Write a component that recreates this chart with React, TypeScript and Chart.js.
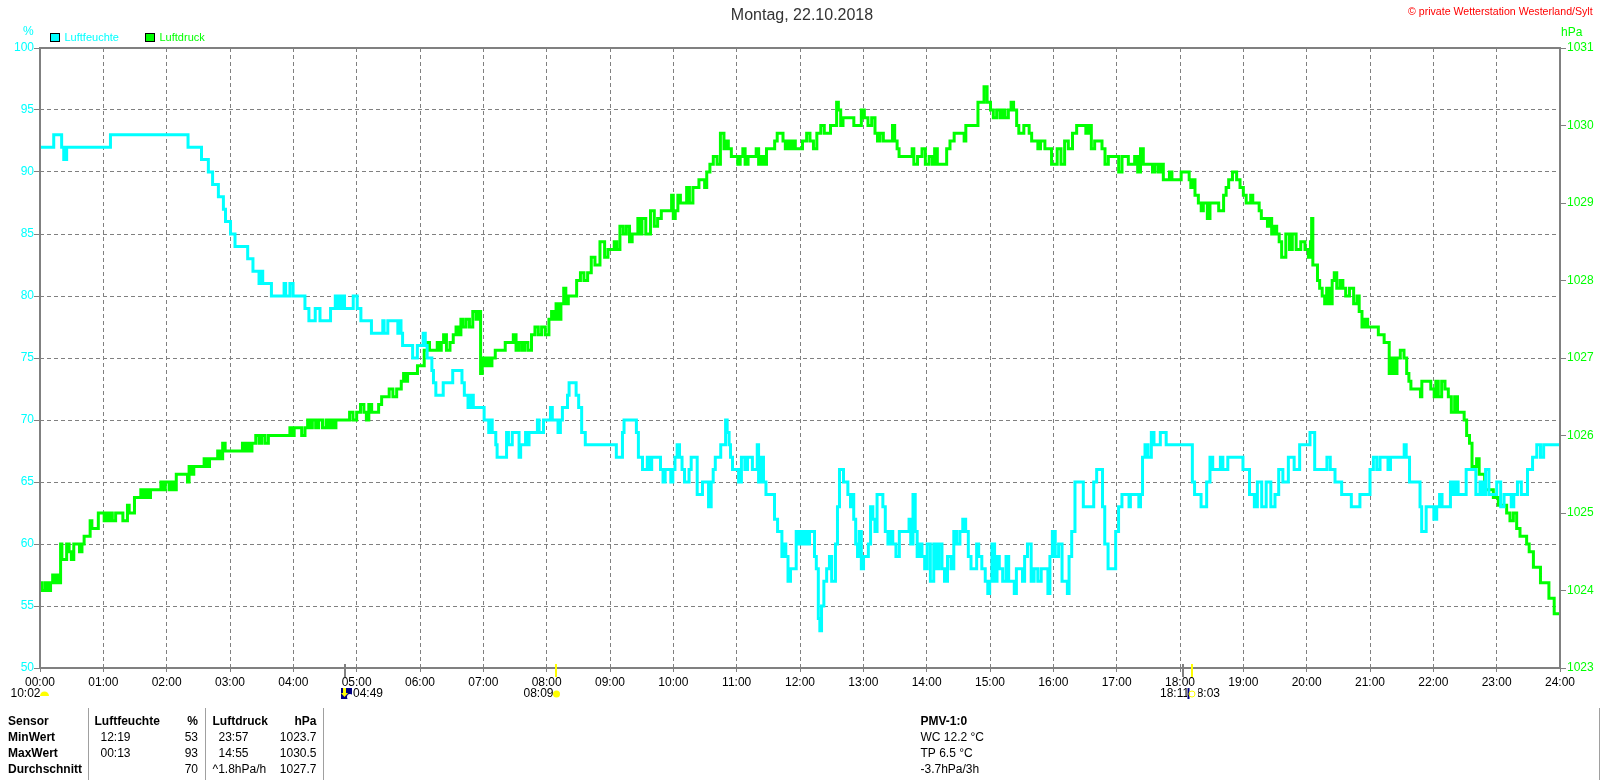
import React, { useEffect, useRef } from "react";
import { Chart, registerables } from "chart.js";

Chart.register(...registerables);

const TITLE = "Montag, 22.10.2018";
const COPYRIGHT = "© private Wetterstation Westerland/Sylt";
const HUMIDITY_LABEL = "Luftfeuchte";
const PRESSURE_LABEL = "Luftdruck";
const HUMIDITY_COLOR = "#00ffff";
const PRESSURE_COLOR = "#00ff00";
const HOUR_TICKS = ["00:00","01:00","02:00","03:00","04:00","05:00","06:00","07:00","08:00","09:00","10:00","11:00","12:00","13:00","14:00","15:00","16:00","17:00","18:00","19:00","20:00","21:00","22:00","23:00","24:00"];

// [minute of day, % relative humidity]
const humidity: number[][] = [
[0,92],[12,92],[14,93],[19.5,93],[21.5,92],[23.5,91],[24.5,91],[26,92],[65.5,92],[68,93],[139,93],[141.5,92],[152,92],[154,91],[158.5,91],[160.5,90],[163,90],[164,89],[168,89],[170,88],[173,88],[174.5,87],[177,86],[179.5,86],[181.5,85],[184,85],[185.5,84],[196,84],[197.5,83],[201,83],[202.5,82],[207,82],[208,81],[209,82],[209.5,81],[210.5,82],[211.5,81],[218,81],[218.5,81],[220,80],[230.5,80],[232,81],[233.5,80],[236,80],[237.5,81],[239,81],[240.5,80],[250,80],[252,79],[254,79],[255.5,78],[260,78],[261.5,79],[264.5,79],[266,78],[274.5,78],[276,79],[279,79],[280.5,80],[282,79],[284,80],[286,79],[288,80],[289,79],[296,79],[297.5,80],[299.5,80],[301.5,79],[303.5,79],[304.5,78],[313,78],[315,77],[324,77],[325.5,78],[326.5,77],[328.5,77],[330.5,78],[338.5,78],[339.5,77],[341.5,78],[342.5,77],[344.5,76],[352,76],[354,75],[356.5,75],[358.5,76],[362,76],[364,77],[366,76],[367.5,75],[370.5,75],[372,74],[373.5,73],[376.5,72],[381,72],[383,73],[390,73],[392,74],[398.5,74],[401,73],[403,72],[405,72],[406,71],[407.5,72],[408.5,71],[410,72],[411,71],[418,71],[420,71],[421.5,70],[424.6,70],[425.6,69],[427.8,70],[429,69],[431,69],[432.6,68],[433.5,67],[441,67],[443,69],[444.6,68],[446.8,68],[448,69],[453,69],[454.7,67],[456,68],[459,68],[461,69],[462.6,68],[464,69],[470.5,69],[472,70],[473.7,69],[476,69],[478,70],[482.5,70],[484.7,71],[486,70],[489.5,70],[492,69],[494,70],[495.8,71],[499,71],[500.5,72],[502,73],[506.8,73],[509,72],[511.6,71],[514.7,69],[518.5,68],[545,68],[547,67],[551,67],[552.6,69],[554,70],[564,70],[566,69],[567.8,67],[570,67],[571.6,66],[574.7,66],[576,67],[578,66],[581,67],[586.7,67],[589,66],[591.5,65],[593,66],[596.8,66],[598.4,65],[600.6,66],[602.5,67],[604.7,68],[607,67],[609.5,66],[611.7,65],[614,65],[615.8,66],[618,67],[621.5,67],[623.7,64],[626.8,64],[628.4,65],[632,65],[634.7,63],[637,65],[638.5,66],[641,67],[644,67],[645.8,68],[649,68],[650,70],[652,69],[653.7,68],[654.6,67],[657.5,66],[660.6,66],[663,65],[666,67],[669.5,66],[671,67],[674,67],[675.8,66],[679,66],[680,68],[681.5,65],[684.3,67],[686.5,65],[689,64],[694.7,64],[697,62],[698,62],[699.5,61],[701.7,61],[704,59],[705.8,60],[707.3,59],[710,57],[712,58],[715,58],[717.8,61],[719,60],[721.6,61],[723.8,60],[726,61],[728,60],[730,61],[733,61],[734.5,59],[736.4,58],[738.3,54],[739.3,53],[741.5,55],[743.7,57],[746.8,58],[749,59],[751,57],[752.5,57],[754.7,60],[756.3,63],[758.5,66],[760.4,66],[762,65],[764,65],[766.7,64],[769,63],[770,64],[771.8,62],[773.7,60],[775.3,59],[776.8,61],[779.4,58],[781,59],[783.8,59],[785.7,60],[788,63],[790,62],[792,61],[794,64],[797.4,64],[799.6,63],[802,61],[804.6,60],[806.8,61],[809,60],[812.8,59],[815.4,61],[822.6,61],[824,62],[825.8,60],[828.3,64],[830,61],[832,59],[834.3,60],[836.8,59],[839.4,58],[841.6,60],[845.4,57],[848,60],[850,58],[853.2,60],[855.8,58],[858,57],[861.5,59],[864.6,58],[866.8,61],[870,60],[873,61],[875.4,62],[878.5,61],[880.4,59],[883.6,58],[886.7,58],[888,60],[890.5,59],[894,58],[897,57],[898.8,56],[900.6,57],[903,60],[905.7,57],[907.6,59],[910,58],[914,57],[916.4,59],[919,57],[922,57],[924,56],[926,58],[930,58],[931.6,57],[934,59],[937,60],[941,57],[942.6,58],[948,57],[949,58],[953.7,58],[956,56],[957.5,59],[960.6,61],[963,59],[967,60],[969.5,57],[972.6,57],[974,56],[975.8,59],[979,61],[982,65],[986.8,65],[990,63],[997,63],[999.5,65],[1002.6,66],[1005.8,66],[1007.4,63],[1010,60],[1013.7,58],[1017.5,58],[1020.6,61],[1023,63],[1027,64],[1031.4,64],[1032,63],[1034,64],[1040.5,64],[1041.5,63],[1043.7,64],[1045.3,67],[1048.4,68],[1051,67],[1054.7,69],[1056,68],[1060.4,68],[1062.3,69],[1065.8,69],[1068,68],[1090.8,68],[1092.6,65],[1095,64],[1099,64],[1100.9,63],[1103.7,63],[1106.8,65],[1110,67],[1112,66],[1117,66],[1119.5,67],[1121.7,66],[1124.2,66],[1126.4,67],[1138.7,67],[1140.6,66],[1144.7,66],[1147,64],[1149.5,64],[1151.4,63],[1155.2,65],[1159.6,63],[1163.7,65],[1168.4,63],[1171.6,64],[1175.4,66],[1179.5,65],[1185.8,67],[1190.5,66],[1196.2,68],[1201.6,68],[1204.7,69],[1206.3,69],[1208.9,66],[1217.4,66],[1221,67],[1223.7,66],[1230,65],[1236.3,64],[1241,64],[1243.6,63],[1249.9,63],[1251,64],[1258.4,64],[1261.6,66],[1264.8,67],[1268,66],[1271,67],[1275.8,67],[1278.3,66],[1280.5,67],[1283.7,67],[1291.6,67],[1293.2,68],[1295.4,67],[1299.5,65],[1306.8,65],[1308,63],[1309.9,61],[1312,61],[1314.4,63],[1316.9,63],[1319.4,63],[1321.6,62],[1324.8,63],[1327,64],[1329.5,63],[1335,63],[1337.4,65],[1339.6,64],[1342,65],[1345,64],[1350,64],[1352.2,66],[1358,66],[1362.6,64],[1365.8,65],[1368,64],[1371,66],[1374.3,64],[1378.5,64],[1381.6,65],[1386,63],[1388,64],[1392.6,64],[1395,63],[1397.4,64],[1402,65],[1404.7,64],[1408.4,64],[1410,66],[1412,66],[1416,67],[1420,68],[1423,67],[1426,68],[1440,68]
];

// [minute of day, hPa air pressure]
const pressure: number[][] = [
[0,1024.1],[4,1024],[6,1024.1],[9,1024],[11,1024.1],[13,1024.2],[15,1024.1],[16.5,1024.2],[19,1024.1],[20,1024.6],[21.5,1024.4],[23.7,1024.4],[26.8,1024.6],[28.4,1024.5],[31,1024.4],[33,1024.6],[36.3,1024.6],[38.5,1024.5],[41,1024.6],[42.6,1024.7],[46.7,1024.7],[48.3,1024.9],[50,1024.8],[54.3,1024.8],[56.2,1025],[60,1025],[61.6,1024.9],[63,1025],[65.4,1024.9],[67,1025],[70,1024.9],[73.3,1025],[77.4,1025],[79.6,1024.9],[82,1024.9],[83.7,1025.1],[85.3,1025],[88.4,1025],[90.6,1025.2],[94.7,1025.2],[96.3,1025.3],[98.5,1025.2],[101,1025.3],[103.6,1025.2],[105.8,1025.3],[113.7,1025.3],[115.3,1025.4],[116.8,1025.3],[120.6,1025.4],[124,1025.3],[126.3,1025.4],[128.2,1025.3],[130,1025.5],[139,1025.5],[140.5,1025.4],[142,1025.6],[144.6,1025.5],[146.8,1025.6],[154.7,1025.6],[156.3,1025.7],[159.5,1025.6],[161.7,1025.7],[167.4,1025.7],[169.3,1025.8],[171.5,1025.7],[174.6,1025.9],[176.2,1025.8],[191,1025.8],[192.6,1025.9],[195,1025.8],[197.4,1025.9],[199.6,1025.8],[202,1025.9],[206.8,1026],[208.4,1025.9],[211.6,1026],[214.7,1025.9],[218,1026],[236,1026],[237.5,1026.1],[240,1026],[241.6,1026.1],[246.3,1026.1],[249.5,1026],[252.6,1026.1],[254.5,1026.2],[256.4,1026.1],[259.6,1026.2],[262.7,1026.1],[265.3,1026.2],[270,1026.1],[272,1026.2],[274.6,1026.1],[276.9,1026.2],[279,1026.1],[281.7,1026.2],[292,1026.2],[294.6,1026.3],[298.4,1026.2],[301.6,1026.3],[305.7,1026.4],[308,1026.3],[310.4,1026.2],[312.6,1026.4],[315.8,1026.3],[319.6,1026.3],[322,1026.4],[325.3,1026.5],[330,1026.5],[331.6,1026.6],[337,1026.5],[338.8,1026.6],[341,1026.6],[343.5,1026.7],[345.4,1026.8],[347.3,1026.7],[349.2,1026.8],[356.8,1026.8],[358.4,1026.9],[363,1026.9],[365,1027.1],[366.3,1027.1],[368,1027.2],[370,1027.1],[375.7,1027.1],[377,1027.2],[378.9,1027.1],[381.4,1027.2],[383.3,1027.3],[386.8,1027.1],[390,1027.2],[393,1027.3],[395.3,1027.4],[397.8,1027.3],[399.7,1027.5],[401.6,1027.4],[405.7,1027.5],[408,1027.4],[412,1027.6],[414.3,1027.5],[416.8,1027.6],[418,1026.8],[420,1027],[421.5,1026.9],[423.7,1027],[426.9,1026.9],[429.4,1027],[433.2,1027.1],[439.5,1027.1],[442,1027.2],[446.8,1027.2],[450,1027.3],[452,1027.1],[454.7,1027.2],[457.8,1027.1],[460.4,1027.2],[464,1027.1],[467.3,1027.3],[470.5,1027.4],[473.6,1027.3],[476.8,1027.4],[480.6,1027.3],[483.7,1027.5],[485.6,1027.6],[487.8,1027.5],[490,1027.7],[492,1027.5],[495,1027.7],[497.3,1027.9],[499,1027.7],[502,1027.8],[506.8,1027.8],[510,1028],[514,1028.1],[516.6,1028],[521,1028.1],[523.5,1028.3],[528,1028.2],[533,1028.5],[536.8,1028.3],[539.3,1028.4],[543,1028.4],[545,1028.5],[547.8,1028.4],[551,1028.7],[554,1028.6],[557,1028.7],[560,1028.5],[562,1028.6],[565.8,1028.6],[567,1028.8],[569,1028.6],[571.5,1028.8],[576.3,1028.6],[580.4,1028.9],[583.5,1028.7],[586.7,1028.8],[590.5,1028.9],[597.4,1028.9],[599.3,1029.1],[600.6,1028.8],[603,1028.9],[605.6,1029.1],[607.8,1029],[612,1029],[613.2,1029.2],[617.3,1029],[619.8,1029.2],[623.5,1029.2],[625,1029.3],[629,1029.3],[630.3,1029.2],[633,1029.4],[636.3,1029.5],[639.4,1029.6],[643.5,1029.5],[645.7,1029.9],[647.4,1029.9],[648.5,1029.7],[650.5,1029.8],[653.7,1029.7],[656.2,1029.6],[660,1029.6],[662,1029.5],[664.7,1029.6],[667,1029.7],[669,1029.5],[672.6,1029.6],[677.4,1029.6],[679.6,1029.7],[682,1029.5],[684.6,1029.6],[687.5,1029.5],[689,1029.7],[694.7,1029.7],[697.3,1029.8],[699.5,1029.9],[703,1029.9],[704.8,1029.8],[707.4,1029.7],[710,1029.8],[712,1029.7],[714.3,1029.8],[716.8,1029.7],[720,1029.7],[724.7,1029.8],[727.9,1029.9],[731,1029.8],[734.5,1029.7],[737.4,1029.9],[742,1030],[744,1029.9],[747.8,1029.9],[750,1030],[754,1030],[755.4,1030.3],[757.3,1030.2],[759.8,1030],[761.7,1030.1],[770,1030.1],[772,1030],[776.8,1030],[779.4,1030.2],[782.5,1030.1],[786.3,1030],[789.5,1030.1],[792.6,1029.9],[794.2,1029.8],[797.4,1029.9],[800.5,1029.8],[806.8,1029.8],[808.4,1030],[811,1029.8],[813,1029.7],[814.7,1029.6],[825.8,1029.6],[826.7,1029.7],[829,1029.5],[833.7,1029.6],[837.5,1029.7],[840,1029.5],[844.7,1029.6],[846.3,1029.5],[848.8,1029.7],[851.4,1029.5],[857.4,1029.5],[860.5,1029.7],[863.7,1029.8],[868.4,1029.9],[874.7,1029.9],[876.3,1029.8],[877.9,1030],[886.7,1030],[890.5,1030.3],[893.7,1030.3],[895,1030.5],[896.5,1030.5],[898,1030.3],[899.4,1030.3],[901.6,1030.2],[904.7,1030.1],[907.9,1030.2],[911,1030.1],[912.6,1030.2],[915.8,1030.1],[919,1030.2],[921,1030.3],[923.7,1030.2],[926.8,1030],[927.8,1029.9],[936.3,1030],[937.9,1029.9],[941,1029.8],[944,1029.8],[946.7,1029.7],[949,1029.8],[955,1029.7],[961.6,1029.5],[965.7,1029.7],[968.8,1029.5],[972.6,1029.8],[975.8,1029.7],[980.5,1029.9],[983.7,1030],[990,1030],[991.6,1029.9],[994.7,1030],[997.3,1029.7],[1001,1029.8],[1004.8,1029.8],[1007.4,1029.7],[1010.5,1029.5],[1013.7,1029.6],[1020,1029.6],[1023.8,1029.4],[1026.3,1029.6],[1035.8,1029.5],[1038.3,1029.6],[1041.5,1029.4],[1043.7,1029.7],[1046.8,1029.5],[1053.2,1029.5],[1054.7,1029.4],[1058,1029.5],[1061,1029.4],[1063.6,1029.5],[1064.8,1029.3],[1069,1029.3],[1071,1029.4],[1073.7,1029.3],[1080,1029.3],[1082.2,1029.4],[1087.9,1029.4],[1089.5,1029.3],[1091,1029.2],[1092.6,1029.3],[1095.8,1029.1],[1099,1029],[1101.2,1028.9],[1103,1029],[1105,1029],[1106.8,1028.8],[1110,1029],[1115.4,1029],[1117.9,1028.9],[1120,1028.9],[1122.6,1029.1],[1124.8,1029.2],[1127.4,1029.3],[1132,1029.4],[1135.3,1029.3],[1138.4,1029.2],[1141.6,1029.1],[1143.8,1029],[1146,1029],[1147.9,1029.1],[1150,1029],[1154.2,1029],[1155.8,1028.9],[1158.3,1028.8],[1162,1028.8],[1163.7,1028.7],[1165.9,1028.8],[1167.8,1028.6],[1170,1028.7],[1173.2,1028.6],[1174.7,1028.5],[1177.9,1028.3],[1182.6,1028.6],[1184.8,1028.4],[1188,1028.6],[1192,1028.4],[1196.8,1028.5],[1200,1028.4],[1203.2,1028.3],[1204,1028.5],[1205.4,1028.8],[1206.3,1028.2],[1209.5,1028.2],[1211,1028],[1213.6,1027.9],[1215.8,1027.8],[1218.3,1027.7],[1219.6,1027.9],[1223,1027.7],[1225.3,1028],[1227,1028.1],[1230,1027.9],[1233.2,1028],[1235.4,1027.9],[1238.5,1027.8],[1242.6,1027.9],[1246.4,1027.7],[1249,1027.8],[1250.5,1027.6],[1254.3,1027.4],[1256.2,1027.5],[1259.4,1027.4],[1267,1027.4],[1268.8,1027.3],[1272.6,1027.3],[1274.2,1027.2],[1277.4,1027.2],[1279,1026.8],[1282,1027],[1284.3,1026.8],[1286.8,1027],[1290.6,1027.1],[1293.8,1027],[1295.7,1026.8],[1298,1026.7],[1299.5,1026.6],[1307.3,1026.6],[1308.3,1026.5],[1309.9,1026.7],[1315.2,1026.7],[1320,1026.6],[1321.6,1026.5],[1323.1,1026.7],[1326.3,1026.5],[1329.5,1026.7],[1332.6,1026.6],[1335.8,1026.5],[1338.3,1026.3],[1342.1,1026.5],[1343.7,1026.3],[1348.4,1026.3],[1350,1026.2],[1353.1,1026],[1355.4,1025.9],[1357.9,1025.6],[1359.4,1025.6],[1362.6,1025.7],[1364.2,1025.5],[1367.3,1025.5],[1369.9,1025.3],[1373.7,1025.3],[1380,1025.2],[1383.1,1025.1],[1387.9,1025.1],[1391,1025],[1394.2,1024.9],[1397.4,1025],[1400.5,1024.8],[1403.7,1024.7],[1406.8,1024.7],[1410,1024.6],[1411.6,1024.5],[1418,1024.3],[1425,1024.1],[1427,1024.1],[1432,1023.9],[1437,1023.7],[1440,1023.7]
];

// [minute, label] of sun/moon markers
const sunMarks = ["10:02", "08:09", "18:11"];
const moonMarks = ["04:49", "18:03"];
const sunMarkMinutes = [1091, 489];
const moonMarkMinutes = [289, 1083];

const tableHeader = ["Sensor", "Luftfeuchte", "%", "Luftdruck", "hPa"];
const rowNames = ["MinWert", "MaxWert", "Durchschnitt"];
const humidityTimes = ["12:19", "00:13", ""];
const humidityStats = ["53", "93", "70"];
const pressureTimes = ["23:57", "14:55", "^1.8hPa/h"];
const pressureStats = ["1023.7", "1030.5", "1027.7"];
const pmvLines = ["PMV-1:0", "WC 12.2 °C", "TP 6.5 °C", "-3.7hPa/3h"];

const FONT = '"Liberation Sans", Arial, sans-serif';

function drawSun(ctx: CanvasRenderingContext2D, x: number, y: number, half: boolean, outline = false) {
  ctx.save();
  ctx.fillStyle = "#ffff00";
  ctx.strokeStyle = "#ffff00";
  ctx.beginPath();
  if (half) {
    ctx.arc(x, y + 2, 4.5, Math.PI, 0);
    ctx.closePath();
    ctx.fill();
  } else if (outline) {
    ctx.arc(x, y, 3, 0, Math.PI * 2);
    ctx.stroke();
  } else {
    ctx.arc(x, y, 3.5, 0, Math.PI * 2);
    ctx.fill();
  }
  ctx.restore();
}

function drawMoon(ctx: CanvasRenderingContext2D, x: number, y: number, w: number) {
  ctx.save();
  ctx.fillStyle = "#000080";
  ctx.fillRect(x, y, w, 11);
  if (w > 4) {
    ctx.fillStyle = "#ffffff";
    ctx.beginPath();
    ctx.arc(x + w - 2, y + 9, 3, 0, Math.PI * 2);
    ctx.fill();
    ctx.fillStyle = "#ffff00";
    ctx.fillRect(x + 2, y, 3, 5);
    ctx.beginPath();
    ctx.moveTo(x, y + 5);
    ctx.lineTo(x + 7, y + 5);
    ctx.lineTo(x + 3.5, y + 9);
    ctx.closePath();
    ctx.fill();
  }
  ctx.restore();
}

const overlay = {
  id: "overlay",
  afterDraw(chart: any) {
    const { ctx, chartArea: a, scales } = chart;
    const sx = scales.x;
    const text = (s: string, x: number, y: number, color = "#000", align: CanvasTextAlign = "left", font = "12px " + FONT) => {
      ctx.fillStyle = color;
      ctx.textAlign = align;
      ctx.textBaseline = "middle";
      ctx.font = font;
      ctx.fillText(s, x, y);
    };
    ctx.save();
    // plot frame
    ctx.strokeStyle = "#808080";
    ctx.lineWidth = 2;
    ctx.strokeRect(a.left, a.top, a.right - a.left, a.bottom - a.top);

    // header
    text(TITLE, 802, 16, "#333333", "center", "16px " + FONT);
    text(COPYRIGHT, 1408, 12, "#ff0000", "left", "10.6px " + FONT);
    text("%", 23, 32, HUMIDITY_COLOR);
    text("hPa", 1561, 33, PRESSURE_COLOR);

    // legend
    chart.data.datasets.forEach((d: any, i: number) => {
      const bx = i === 0 ? 50 : 145;
      ctx.fillStyle = d.borderColor;
      ctx.strokeStyle = "#000";
      ctx.lineWidth = 1;
      ctx.fillRect(bx, 33, 10, 9);
      ctx.strokeRect(bx + 0.5, 33.5, 9, 8);
      text(d.label, bx + 14.5, 38, d.borderColor, "left", "11px " + FONT);
    });

    // sun and moon markers on the time axis
    const mark = (min: number, color: string) => {
      const px = Math.round(sx.getPixelForValue(min));
      ctx.fillStyle = color;
      ctx.fillRect(px - 1, 664, 2, 13);
    };
    moonMarkMinutes.forEach((m) => mark(m, "#808080"));
    sunMarkMinutes.forEach((m) => mark(m, "#ffff00"));

    const ROW2 = 694;
    text(sunMarks[0], 10.5, ROW2);
    drawSun(ctx, 44.5, ROW2, true);
    drawMoon(ctx, 341, 688, 11);
    text(moonMarks[0], 353, ROW2);
    text(sunMarks[1], 523.5, ROW2);
    drawSun(ctx, 556.5, ROW2, false);
    text(sunMarks[2], 1160, ROW2);
    text(moonMarks[1], 1190, ROW2);
    ctx.fillStyle = "#ffffff";
    ctx.fillRect(1187, 688, 11, 12);
    drawMoon(ctx, 1187.5, 688, 2);
    drawSun(ctx, 1192, ROW2, false, true);

    // statistics table
    const rows = [722, 738, 754, 770];
    const bold = "bold 12px " + FONT;
    ctx.fillStyle = "#a0a0a0";
    [88, 205, 323].forEach((x) => ctx.fillRect(x, 708, 1, 72));
    ctx.fillRect(1599, 708, 1, 72);
    text(tableHeader[0], 8, rows[0], "#000", "left", bold);
    text(tableHeader[1], 94.5, rows[0], "#000", "left", bold);
    text(tableHeader[2], 198, rows[0], "#000", "right", bold);
    text(tableHeader[3], 212.5, rows[0], "#000", "left", bold);
    text(tableHeader[4], 316.5, rows[0], "#000", "right", bold);
    rowNames.forEach((name, i) => {
      const y = rows[i + 1];
      text(name, 8, y, "#000", "left", bold);
      text(humidityTimes[i], 100.5, y);
      text(humidityStats[i], 198, y, "#000", "right");
      text(pressureTimes[i], i === 2 ? 212.5 : 218.5, y);
      text(pressureStats[i], 316.5, y, "#000", "right");
    });
    pmvLines.forEach((s, i) => text(s, 920.5, rows[i], "#000", "left", i === 0 ? bold : "12px " + FONT));
    ctx.restore();
  },
};

export default function App() {
  const ref = useRef<HTMLCanvasElement>(null);
  useEffect(() => {
    if (!ref.current) return;
    const fit = (prop: "width" | "height", size: number) => (scale: any) => {
      scale[prop] = size;
    };
    const chart = new Chart(ref.current, {
      type: "line",
      data: {
        datasets: [
          {
            label: HUMIDITY_LABEL,
            data: humidity.map(([x, y]) => ({ x, y })),
            borderColor: HUMIDITY_COLOR,
            backgroundColor: HUMIDITY_COLOR,
            borderWidth: 3,
            pointRadius: 0,
            yAxisID: "y",
            stepped: "middle",
          },
          {
            label: PRESSURE_LABEL,
            data: pressure.map(([x, y]) => ({ x, y })),
            borderColor: PRESSURE_COLOR,
            backgroundColor: PRESSURE_COLOR,
            borderWidth: 3,
            pointRadius: 0,
            yAxisID: "y1",
            stepped: "middle",
          },
        ],
      },
      options: {
        responsive: false,
        animation: false,
        devicePixelRatio: 1,
        layout: { padding: { top: 48, left: 0, right: 0, bottom: 0 } },
        plugins: { legend: { display: false }, title: { display: false }, tooltip: { enabled: false } },
        scales: {
          x: {
            type: "linear",
            min: 0,
            max: 1440,
            afterFit: fit("height", 112),
            afterBuildTicks: (scale: any) => {
              scale.ticks = HOUR_TICKS.map((_, i) => ({ value: i * 60 }));
            },
            ticks: {
              autoSkip: false,
              maxRotation: 0,
              minRotation: 0,
              padding: 3,
              color: "#000000",
              font: { family: FONT, size: 12 },
              callback: (v: any) => HOUR_TICKS[Math.round(Number(v) / 60)],
            },
            border: { display: false, dash: [4, 3] },
            grid: { color: "#808080", lineWidth: 1, tickColor: "#808080", tickLength: 4 },
          },
          y: {
            position: "left",
            min: 50,
            max: 100,
            afterFit: fit("width", 40),
            ticks: { stepSize: 5, padding: 0, color: HUMIDITY_COLOR, font: { family: FONT, size: 12 } },
            border: { display: false, dash: [4, 3] },
            grid: { color: "#808080", lineWidth: 1, tickColor: "#808080", tickLength: 6 },
          },
          y1: {
            position: "right",
            min: 1023,
            max: 1031,
            afterFit: fit("width", 40),
            ticks: { stepSize: 1, padding: 1, color: PRESSURE_COLOR, font: { family: FONT, size: 12 }, callback: (v: any) => String(v) },
            border: { display: false },
            grid: { drawOnChartArea: false, color: "#808080", tickColor: "#808080", tickLength: 6 },
          },
        },
      },
      plugins: [overlay],
    } as any);
    return () => chart.destroy();
  }, []);
  return (
    <canvas
      ref={ref}
      width={1600}
      height={780}
      style={{ position: "fixed", left: 0, top: 0, width: 1600, height: 780, display: "block", background: "#fff" }}
    />
  );
}
